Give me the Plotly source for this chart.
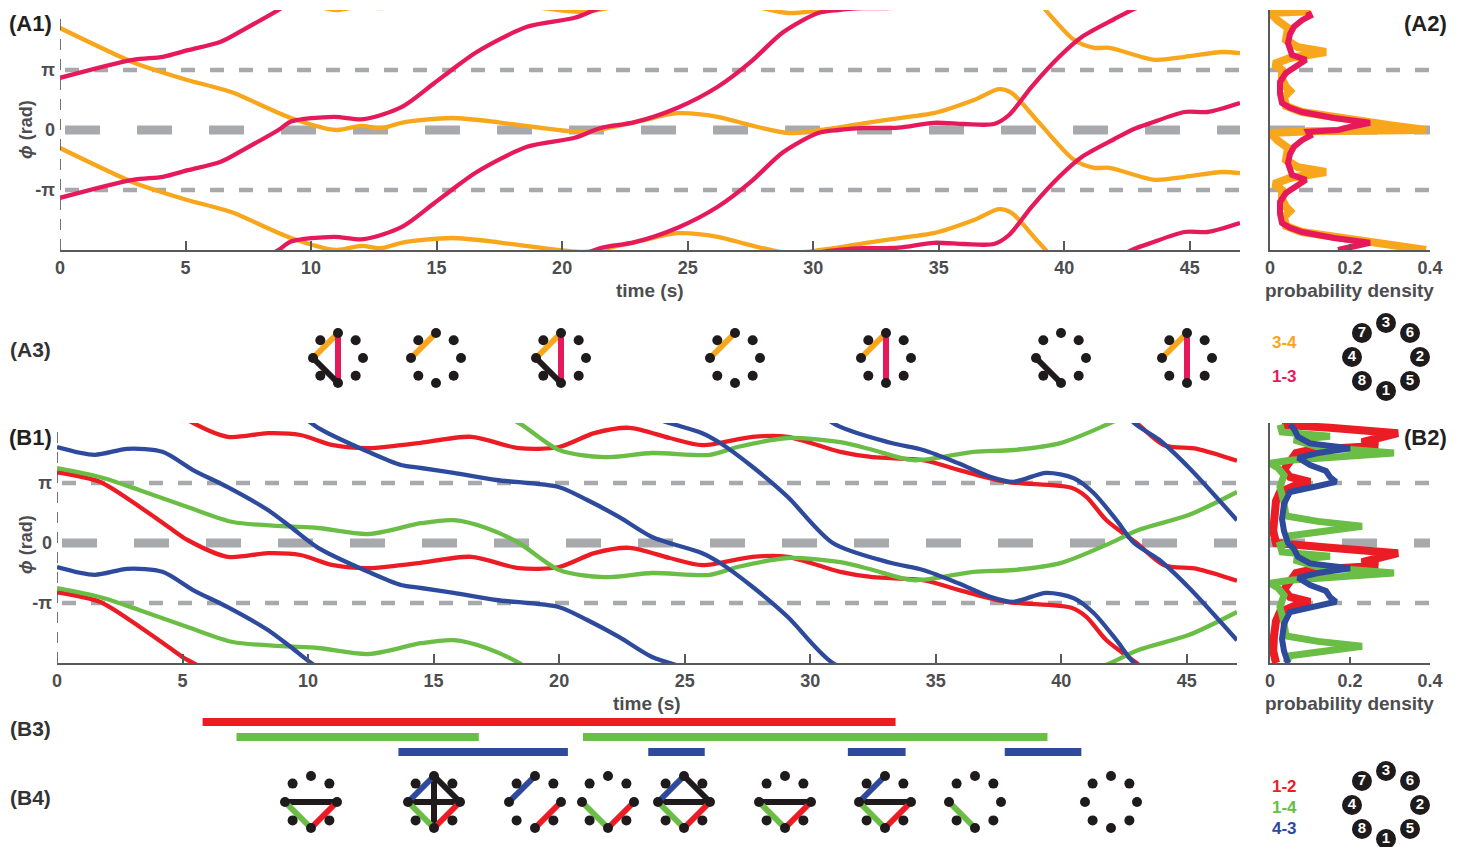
import numpy as np
import plotly.graph_objects as go

W, H = 1466, 847

# ---------------- DATA ----------------
# (A1) unwrapped phase differences, in units of pi
t_34 = [0, 2.9, 4.0, 5.1, 6.1, 6.9, 9.2, 11.0, 12.0, 12.8, 13.6, 15.6, 17.6, 18.9, 20.9, 22.9, 24.6,
        26.2, 27.5, 29.0, 30.3, 32.0, 33.8, 34.8, 36.4, 37.4, 37.9, 39.0, 40.4, 41.2, 41.8, 43.6,
        44.8, 46.3, 47.0]
phi_34 = [1.7, 1.13, 0.97, 0.83, 0.72, 0.62, 0.2, 0.0, 0.07, 0.03, 0.12, 0.2, 0.12, 0.05, -0.03,
          0.13, 0.28, 0.22, 0.08, -0.05, 0.0, 0.11, 0.22, 0.28, 0.5, 0.68, 0.62, 0.12, -0.5, -0.63,
          -0.63, -0.83, -0.78, -0.7, -0.72]
t_13 = [0, 2.9, 4.1, 5.1, 6.4, 7.3, 8.7, 9.2, 10.9, 12.1, 13.6, 14.9, 15.6, 16.6, 18.6, 20.5, 21.5,
        22.9, 24.6, 26.2, 27.5, 28.8, 30.2, 31.0, 32.0, 33.4, 34.8, 36.0, 37.2, 37.8, 38.7, 39.8,
        40.7, 42.0, 42.8, 43.4, 44.8, 45.7, 47.0]
phi_13 = [0.87, 1.17, 1.22, 1.33, 1.47, 1.67, 2.0, 2.14, 2.22, 2.18, 2.38, 2.78, 3.0, 3.3, 3.72,
          3.87, 4.03, 4.13, 4.37, 4.72, 5.13, 5.63, 5.95, 6.0, 6.03, 6.04, 6.12, 6.1, 6.1, 6.25,
          6.72, 7.22, 7.55, 7.85, 8.02, 8.11, 8.3, 8.3, 8.45]

# (A2) probability density over one period (phase in units of pi, 0..2)
pd_p_34 = [0.0, 0.08, 0.15, 0.22, 0.3, 0.4, 0.55, 0.65, 0.72, 0.85, 1.0, 1.1, 1.2, 1.3, 1.38, 1.5,
           1.7, 1.82, 1.9, 1.95, 1.98]
pd_v_34 = [0.39, 0.3, 0.22, 0.15, 0.08, 0.04, 0.035, 0.05, 0.04, 0.03, 0.03, 0.01, 0.05, 0.14, 0.07,
           0.04, 0.045, 0.02, 0.005, 0.0, 0.1]
pd_p_13 = [0.0, 0.05, 0.12, 0.2, 0.3, 0.37, 0.45, 0.6, 0.8, 0.95, 1.05, 1.17, 1.25, 1.45, 1.6, 1.72,
           1.83, 1.9, 1.97]
pd_v_13 = [0.17, 0.2, 0.25, 0.16, 0.08, 0.05, 0.03, 0.025, 0.025, 0.04, 0.06, 0.09, 0.055, 0.045,
           0.05, 0.06, 0.08, 0.1, 0.095]

# (B1) unwrapped phase differences, in units of pi
t_12 = [0, 1.7, 3.3, 4.5, 5.2, 6.8, 8.4, 9.7, 11.0, 12.4, 13.7, 14.5, 16.5, 18.4, 20.0, 21.4, 22.8,
        24.4, 25.7, 27.7, 29.1, 31.2, 32.5, 34.5, 35.9, 37.8, 40.4, 41.0, 41.8, 43.0, 44.1, 45.4, 47.0]
phi_12 = [1.18, 1.02, 0.6, 0.25, 0.05, -0.23, -0.17, -0.2, -0.37, -0.42, -0.37, -0.33, -0.23, -0.42,
          -0.4, -0.17, -0.08, -0.25, -0.37, -0.23, -0.23, -0.48, -0.57, -0.62, -0.78, -0.98, -1.08,
          -1.23, -1.62, -2.0, -2.37, -2.43, -2.63]
t_14 = [0, 1.7, 3.3, 5.2, 7.0, 9.0, 10.4, 12.4, 14.5, 15.8, 17.1, 18.4, 20.0, 21.8, 23.7, 26.0, 27.1,
        29.1, 31.2, 32.5, 34.1, 36.5, 38.1, 40.0, 41.8, 43.1, 45.1, 47.0]
phi_14 = [1.25, 1.1, 0.88, 0.6, 0.35, 0.28, 0.25, 0.15, 0.33, 0.38, 0.25, 0.0, -0.45, -0.57, -0.5,
          -0.53, -0.4, -0.25, -0.32, -0.45, -0.62, -0.48, -0.45, -0.33, -0.03, 0.22, 0.47, 0.85]
t_43 = [0, 1.5, 2.8, 4.2, 5.4, 6.8, 8.4, 9.3, 10.4, 12.4, 13.7, 14.5, 15.8, 17.5, 20.0, 21.1, 22.4,
        23.7, 25.7, 26.4, 27.7, 29.1, 30.9, 33.2, 34.5, 35.9, 37.2, 38.1, 39.4, 40.5, 41.3, 42.2,
        42.9, 43.9, 45.1, 47.0]
phi_43 = [1.6, 1.47, 1.57, 1.52, 1.22, 0.93, 0.55, 0.27, -0.08, -0.48, -0.7, -0.75, -0.83, -0.95,
          -1.07, -1.28, -1.57, -1.9, -2.17, -2.33, -2.73, -3.23, -4.0, -4.33, -4.45, -4.67, -4.9,
          -4.98, -4.83, -4.92, -5.17, -5.62, -6.0, -6.28, -6.75, -7.62]

# (B2) probability density over one period
pd_p_12 = [0.0, 0.2, 0.45, 0.7, 0.85, 0.95, 1.02, 1.1, 1.22, 1.35, 1.5, 1.55, 1.62, 1.68, 1.75,
           1.83, 1.92, 1.97]
pd_v_12 = [0.015, 0.008, 0.01, 0.015, 0.025, 0.06, 0.1, 0.05, 0.035, 0.05, 0.065, 0.1, 0.27, 0.23,
           0.28, 0.32, 0.15, 0.03]
pd_p_14 = [0.0, 0.12, 0.2, 0.28, 0.36, 0.45, 0.67, 0.93, 1.13, 1.25, 1.33, 1.38, 1.5, 1.6, 1.72,
           1.78, 1.85, 1.97]
pd_v_14 = [0.04, 0.05, 0.14, 0.23, 0.12, 0.04, 0.035, 0.025, 0.035, 0.02, 0.0, 0.05, 0.31, 0.12,
           0.06, 0.15, 0.03, 0.025]
pd_p_43 = [0.0, 0.2, 0.4, 0.65, 0.85, 0.95, 1.02, 1.1, 1.2, 1.3, 1.42, 1.5, 1.58, 1.66, 1.77, 1.9,
           1.97]
pd_v_43 = [0.045, 0.035, 0.03, 0.035, 0.05, 0.12, 0.165, 0.15, 0.14, 0.1, 0.07, 0.12, 0.2, 0.1,
           0.07, 0.06, 0.05]

# (B3) locking intervals (s)
lock_12 = [(5.8, 33.4)]
lock_14 = [(7.15, 16.8), (20.95, 39.45)]
lock_43 = [(13.6, 20.35), (23.55, 25.8), (31.5, 33.8), (37.75, 40.8)]

# (A3)/(B4) coupling diagrams: edges between nodes
a3_glyphs = [
    [('3', '4', 'o'), ('1', '3', 'm'), ('4', '1', 'k')],
    [('3', '4', 'o')],
    [('3', '4', 'o'), ('1', '3', 'm'), ('4', '1', 'k')],
    [('3', '4', 'o')],
    [('3', '4', 'o'), ('1', '3', 'm')],
    [('4', '1', 'k')],
    [('3', '4', 'o'), ('1', '3', 'm')],
]
b4_glyphs = [
    [('4', '2', 'k'), ('1', '4', 'g'), ('1', '2', 'r')],
    [('3', '1', 'k'), ('4', '2', 'k'), ('3', '2', 'k'), ('4', '3', 'b'), ('1', '4', 'g'), ('1', '2', 'r')],
    [('4', '3', 'b'), ('1', '2', 'r')],
    [('1', '4', 'g'), ('1', '2', 'r')],
    [('4', '2', 'k'), ('3', '2', 'k'), ('4', '3', 'b'), ('1', '4', 'g'), ('1', '2', 'r')],
    [('4', '2', 'k'), ('1', '4', 'g'), ('1', '2', 'r')],
    [('4', '2', 'k'), ('4', '3', 'b'), ('1', '4', 'g'), ('1', '2', 'r')],
    [('1', '4', 'g')],
    [],
]
node_angle = {'3': 90, '6': 45, '2': 0, '5': -45, '1': -90, '8': -135, '4': 180, '7': 135}
x_ticks = [0, 5, 10, 15, 20, 25, 30, 35, 40, 45]
pd_ticks = [0, 0.2, 0.4]
pd_ticktext = ['0', '0.2', '0.4']
y_ticks = [-1, 0, 1]
y_ticktext = ['-π', '0', 'π']

# ---------------- STYLE ----------------
ORANGE = '#F8A61C'
MAGENTA = '#E6195B'
RED = '#EC1C24'
GREEN = '#6ABD45'
BLUE = '#2D4A9C'
BLACK = '#1F1A1B'
GRAY = '#A7A9AC'
TXT = '#4D4D4F'
AXC = '#58595B'
FONT = 'Liberation Sans, Arial, Helvetica, sans-serif'
col = {'o': ORANGE, 'm': MAGENTA, 'r': RED, 'g': GREEN, 'b': BLUE, 'k': BLACK}


def dx(a, b):
    return [a / W, b / W]


def dy(top, bot):
    return [1 - bot / H, 1 - top / H]


def copies(t, u, lo=-2.0, hi=2.0):
    xs, ys = [], []
    k0 = int(np.floor((lo - max(u)) / 2)) - 1
    k1 = int(np.ceil((hi - min(u)) / 2)) + 1
    for k in range(k0, k1 + 1):
        shifted = [v + 2 * k for v in u]
        if max(shifted) < lo or min(shifted) > hi:
            continue
        xs += list(t) + [None]
        ys += shifted + [None]
    return xs, ys


def density_copies(p, v):
    # lower period (p - 2) flows straight into the upper period (p)
    xs = list(v) + list(v)
    ys = [q - 2 for q in p] + list(p)
    return xs, ys


fig = go.Figure()


def ref_lines(xa, ya, x0, x1):
    for yv, w, d in [(1, 4.5, '14px,15px'), (-1, 4.5, '14px,15px'), (0, 9, '35px,37px')]:
        fig.add_trace(go.Scatter(x=[x0, x1], y=[yv, yv], mode='lines', xaxis=xa, yaxis=ya,
                                 line=dict(color=GRAY, width=w, dash=d), hoverinfo='skip'))


ref_lines('x', 'y', 0.2, 47)
ref_lines('x2', 'y2', 0.0, 0.4)
ref_lines('x3', 'y3', 0.2, 47)
ref_lines('x4', 'y4', 0.0, 0.4)

# A1 curves
for t, u, c in [(t_34, phi_34, ORANGE), (t_13, phi_13, MAGENTA)]:
    xs, ys = copies(t, u)
    fig.add_trace(go.Scatter(x=xs, y=ys, mode='lines', xaxis='x', yaxis='y',
                             line=dict(color=c, width=4.3, shape='spline', smoothing=0.8)))
# A2 densities
for p, v, c, w in [(pd_p_34, pd_v_34, ORANGE, 8), (pd_p_13, pd_v_13, MAGENTA, 6)]:
    xs, ys = density_copies(p, v)
    fig.add_trace(go.Scatter(x=xs, y=ys, mode='lines', xaxis='x2', yaxis='y2',
                             line=dict(color=c, width=w)))
# B1 curves
for t, u, c in [(t_12, phi_12, RED), (t_14, phi_14, GREEN), (t_43, phi_43, BLUE)]:
    xs, ys = copies(t, u)
    fig.add_trace(go.Scatter(x=xs, y=ys, mode='lines', xaxis='x3', yaxis='y3',
                             line=dict(color=c, width=4.3, shape='spline', smoothing=0.8)))
# B2 densities
for p, v, c, w in [(pd_p_12, pd_v_12, RED, 8), (pd_p_14, pd_v_14, GREEN, 7), (pd_p_43, pd_v_43, BLUE, 6)]:
    xs, ys = density_copies(p, v)
    fig.add_trace(go.Scatter(x=xs, y=ys, mode='lines', xaxis='x4', yaxis='y4',
                             line=dict(color=c, width=w)))
# B3 bars
for row, (iv, c) in enumerate([(lock_12, RED), (lock_14, GREEN), (lock_43, BLUE)], start=1):
    xs, ys = [], []
    for a, b in iv:
        xs += [a, b, None]
        ys += [row, row, None]
    fig.add_trace(go.Scatter(x=xs, y=ys, mode='lines', xaxis='x5', yaxis='y5',
                             line=dict(color=c, width=8)))


# glyphs (overlay axis in pixel units)
def node_xy(cx, cy, r, n):
    a = np.deg2rad(node_angle[n])
    return cx + r * np.cos(a), cy - r * np.sin(a)


def draw_glyph(cx, cy, edges, r=25):
    for a, b, c in edges:
        x0, y0 = node_xy(cx, cy, r, a)
        x1, y1 = node_xy(cx, cy, r, b)
        fig.add_trace(go.Scatter(x=[x0, x1], y=[y0, y1], mode='lines', xaxis='x6', yaxis='y6',
                                 line=dict(color=col[c], width=6)))
    pts = [node_xy(cx, cy, r, n) for n in node_angle]
    fig.add_trace(go.Scatter(x=[p[0] for p in pts], y=[p[1] for p in pts], mode='markers',
                             xaxis='x6', yaxis='y6', marker=dict(color=BLACK, size=10)))


a3_cx = [338, 436, 561, 735, 886, 1061, 1187]
for cx, e in zip(a3_cx, a3_glyphs):
    draw_glyph(cx, 358, e)
b4_cx = [311, 434, 535, 608, 684, 785, 885, 975, 1111]
for cx, e in zip(b4_cx, b4_glyphs):
    draw_glyph(cx, 802, e, r=26)

# node legends
for cy in [357, 805]:
    names = list(node_angle.keys())
    pts = [node_xy(1386, cy, 34, n) for n in names]
    fig.add_trace(go.Scatter(x=[p[0] for p in pts], y=[p[1] for p in pts], mode='markers+text',
                             text=names, textposition='middle center', xaxis='x6', yaxis='y6',
                             marker=dict(color=BLACK, size=20),
                             textfont=dict(color='white', size=15, family=FONT, weight='bold')))

axis_common = dict(showgrid=False, zeroline=False, fixedrange=True, automargin=False)
tickfont = dict(family=FONT, size=18, color=TXT, weight='bold')


def time_axis(dom, anchor):
    return dict(domain=dom, range=[0, 47], anchor=anchor, showline=True, linecolor=AXC, linewidth=1.5,
                ticks='inside', ticklen=9, tickwidth=1.5, tickcolor=AXC, tickvals=x_ticks,
                tickfont=tickfont, ticklabelstandoff=1, **axis_common)


def phase_axis(dom, anchor):
    return dict(domain=dom, range=[-2, 2], anchor=anchor, showline=False, ticks='',
                tickvals=y_ticks, ticktext=y_ticktext, tickfont=tickfont, ticklabelstandoff=4,
                **axis_common)


def pd_axis(dom, anchor):
    return dict(domain=dom, range=[0, 0.4], anchor=anchor, showline=True, linecolor=AXC, linewidth=1.5,
                ticks='inside', ticklen=6, tickwidth=1.5, tickcolor=AXC, tickvals=pd_ticks,
                ticktext=pd_ticktext, tickfont=tickfont, ticklabelstandoff=1, **axis_common)


def pd_yaxis(dom, anchor):
    return dict(domain=dom, range=[-2, 2], anchor=anchor, showline=True, linecolor=AXC, linewidth=1.5,
                showticklabels=False, ticks='', **axis_common)


fig.update_layout(
    template='none',
    width=W, height=H, autosize=False, margin=dict(l=0, r=0, t=0, b=0, pad=0), showlegend=False,
    paper_bgcolor='white', plot_bgcolor='rgba(0,0,0,0)',
    font=dict(family=FONT, color=TXT),
    xaxis=time_axis(dx(60, 1240), 'y'), yaxis=phase_axis(dy(10, 250), 'x'),
    xaxis2=pd_axis(dx(1270, 1430), 'y2'), yaxis2=pd_yaxis(dy(10, 250), 'x2'),
    xaxis3=time_axis(dx(57, 1237), 'y3'), yaxis3=phase_axis(dy(423, 663), 'x3'),
    xaxis4=pd_axis(dx(1270, 1430), 'y4'), yaxis4=pd_yaxis(dy(423, 663), 'x4'),
    xaxis5=dict(domain=dx(57, 1237), range=[0, 47], anchor='y5', visible=False, **axis_common),
    yaxis5=dict(domain=dy(707, 767), range=[4, 0], anchor='x5', visible=False, **axis_common),
    xaxis6=dict(domain=[0, 1], range=[0, W], anchor='y6', visible=False, **axis_common),
    yaxis6=dict(domain=[0, 1], range=[H, 0], anchor='x6', visible=False, **axis_common),
)

# dashed left spines
for xr, yr in [('x', 'y'), ('x3', 'y3')]:
    fig.add_shape(type='line', xref=xr, yref=yr, x0=0, x1=0, y0=-2, y1=2,
                  line=dict(color='#444444', width=1.5, dash='11px,9px'))


def ann(x, y, text, size=18, color=TXT, bold=True, angle=0, xanchor='center'):
    fig.add_annotation(x=x / W, y=1 - y / H, xref='paper', yref='paper', text=text, showarrow=False,
                       xanchor=xanchor, yanchor='middle', textangle=angle,
                       font=dict(family=FONT, size=size, color=color, weight='bold' if bold else 'normal'))


# axis titles
ann(650, 290, 'time (s)', 19)
ann(647, 703, 'time (s)', 19)
ann(1349, 290, 'probability density', 19)
ann(1349, 703, 'probability density', 19)
ann(26, 130, '<i>ϕ</i> (rad)', 18, angle=-90)
ann(26, 545, '<i>ϕ</i> (rad)', 18, angle=-90)

# panel labels
for lbl, x, y in [('(A1)', 30, 24), ('(A2)', 1425, 24), ('(B1)', 30, 437), ('(B2)', 1425, 437)]:
    ann(x, y, lbl, 22, color='#231F20')
for lbl, y in [('(A3)', 350), ('(B3)', 728), ('(B4)', 797)]:
    ann(30, y, lbl, 21, color='#333333')

# legend labels
ann(1284, 342, '3-4', 17, color=ORANGE)
ann(1284, 376, '1-3', 17, color=MAGENTA)
ann(1284, 786, '1-2', 17, color=RED)
ann(1284, 807, '1-4', 17, color=GREEN)
ann(1284, 828, '4-3', 17, color=BLUE)

fig.write_html('out.html',
               config={'displayModeBar': False, 'responsive': False},
               post_script="document.body.style.margin='0';")
